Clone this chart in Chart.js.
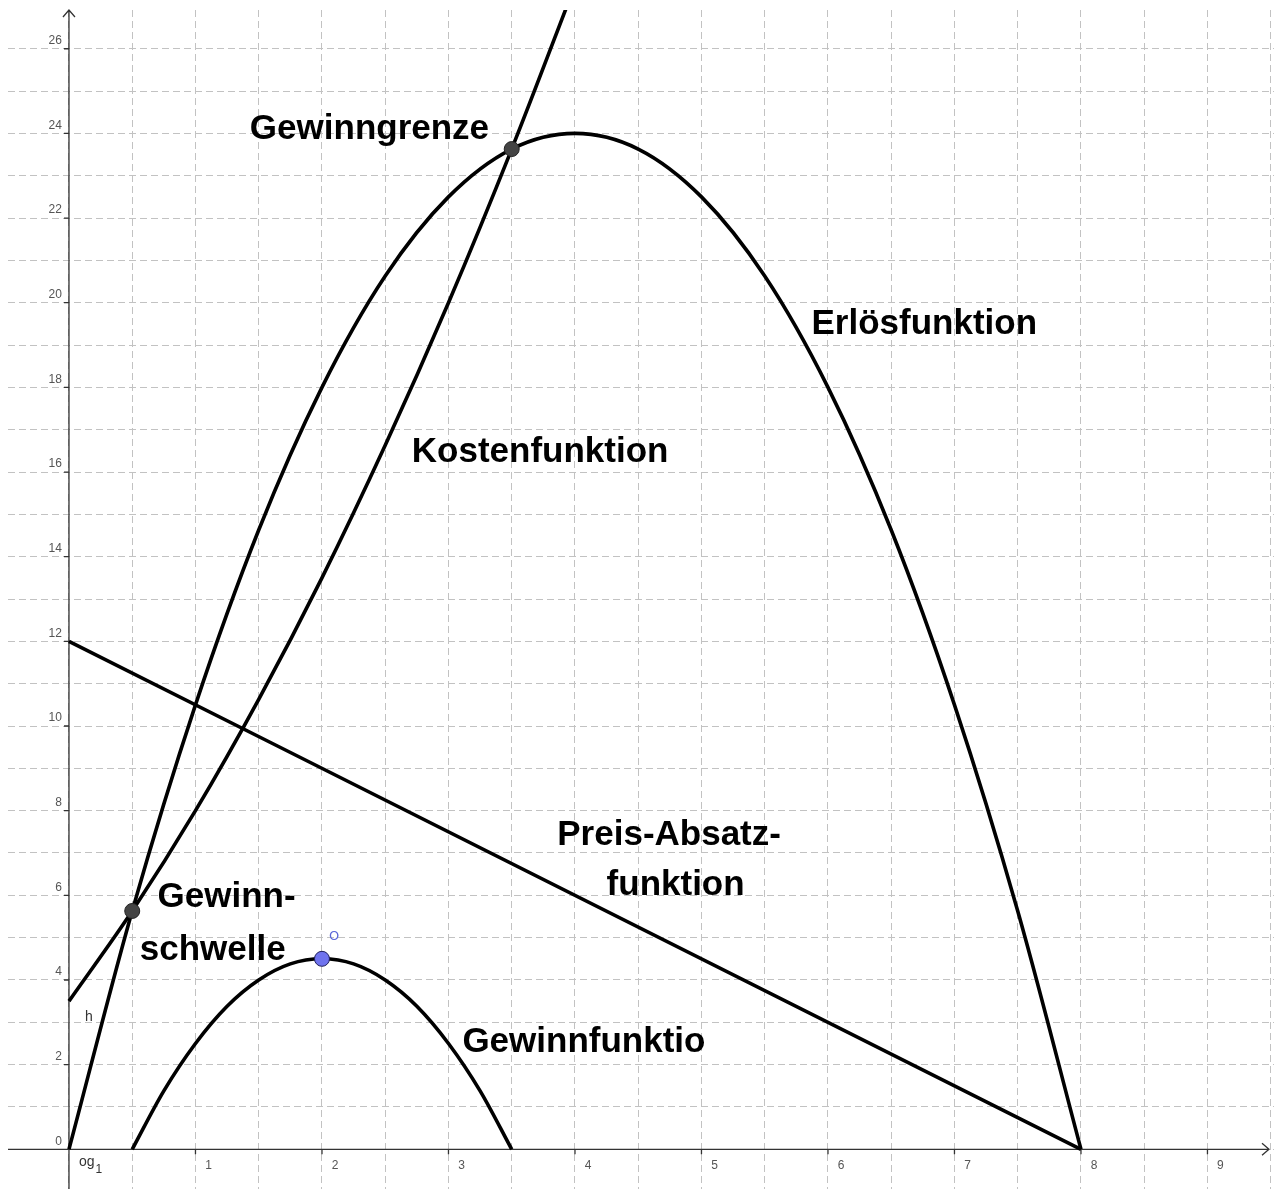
<!DOCTYPE html>
<html>
<head>
<meta charset="utf-8">
<script src="https://cdn.jsdelivr.net/npm/chart.js@4/dist/chart.umd.min.js"></script>
<style>
html, body { margin: 0; padding: 0; background: #fff; }
#grafik { display: block; }
</style>
</head>
<body>
<canvas id="grafik" width="1274" height="1189"></canvas>
<script>
// Werte
const erloesX = [0, 0.5, 1, 1.5, 2, 2.5, 3, 3.5, 4, 4.5, 5, 5.5, 6, 6.5, 7, 7.5, 8];
const erloesY = [0, 5.63, 10.5, 14.63, 18, 20.63, 22.5, 23.63, 24, 23.63, 22.5, 20.63, 18, 14.63, 10.5, 5.63, 0];

const kostenX = [0, 0.5, 1, 1.5, 2, 2.5, 3, 3.5, 4];
const kostenY = [3.5, 5.63, 8, 10.63, 13.5, 16.63, 20, 23.63, 27.5];

const gewinnX = [0.5, 0.75, 1, 1.25, 1.5, 1.75, 2, 2.25, 2.5, 2.75, 3, 3.25, 3.5];
const gewinnY = [0, 1.38, 2.5, 3.38, 4, 4.38, 4.5, 4.38, 4, 3.38, 2.5, 1.38, 0];

const preisX = [0, 8];
const preisY = [12, 0];

const schwellenPunkt = [0.5, 5.63];
const grenzPunkt = [3.5, 23.63];
const maxPunkt = [2, 4.5];

const xTicks = [1, 2, 3, 4, 5, 6, 7, 8, 9];
const yTicks = [0, 2, 4, 6, 8, 10, 12, 14, 16, 18, 20, 22, 24, 26];

// Beschriftungen (Text, Position in Achseneinheiten)
const notizen = [
  ['Gewinngrenze', 1.43, 23.87],
  ['Erlösfunktion', 5.87, 19.26],
  ['Kostenfunktion', 2.71, 16.24],
  ['Preis-Absatz-', 3.86, 7.19],
  ['funktion', 4.25, 6.01],
  ['Gewinn-', 0.70, 5.72],
  ['schwelle', 0.56, 4.47],
  ['Gewinnfunktio', 3.11, 2.30]
];

function punkte(xs, ys) {
  return xs.map((v, i) => ({x: v, y: ys[i]}));
}

function kurve(xs, ys) {
  return {
    data: punkte(xs, ys),
    showLine: true,
    borderColor: '#000',
    borderWidth: 3.6,
    pointRadius: 0,
    fill: false,
    cubicInterpolationMode: 'monotone'
  };
}

function punkt(p, farbe, rand) {
  return {
    data: [{x: p[0], y: p[1]}],
    pointRadius: 7.5,
    pointBackgroundColor: farbe,
    pointBorderColor: rand,
    pointBorderWidth: 1
  };
}

const halbeLinie = (ctx, step) => {
  const v = ctx.tick.value / step;
  return Math.abs(v - Math.round(v)) < 1e-6 ? '#c2c2c2' : 'rgba(0,0,0,0)';
};

const achsen = {
  id: 'achsen',
  beforeDatasetsDraw(chart) {
    const {ctx, chartArea: a, scales: {x, y}} = chart;
    const x0 = x.getPixelForValue(0);
    const y0 = y.getPixelForValue(0);
    ctx.save();
    ctx.strokeStyle = '#333';
    ctx.lineWidth = 1.3;
    ctx.beginPath();
    ctx.moveTo(a.left, y0); ctx.lineTo(a.right - 5, y0);
    ctx.moveTo(x0, a.bottom); ctx.lineTo(x0, a.top);
    ctx.moveTo(a.right - 12, y0 - 6); ctx.lineTo(a.right - 5, y0); ctx.lineTo(a.right - 12, y0 + 6);
    ctx.moveTo(x0 - 6, a.top + 7); ctx.lineTo(x0, a.top); ctx.lineTo(x0 + 6, a.top + 7);
    xTicks.forEach(v => {
      const p = x.getPixelForValue(v);
      ctx.moveTo(p, y0); ctx.lineTo(p, y0 + 5);
    });
    yTicks.forEach(v => {
      const p = y.getPixelForValue(v);
      ctx.moveTo(x0 - 5, p); ctx.lineTo(x0, p);
    });
    ctx.stroke();

    ctx.fillStyle = '#555';
    ctx.font = '12px "Liberation Sans", Arial, sans-serif';
    ctx.textBaseline = 'middle';
    ctx.textAlign = 'center';
    xTicks.forEach(v => ctx.fillText(String(v), x.getPixelForValue(v) + 13, y0 + 16));
    ctx.textAlign = 'right';
    yTicks.forEach(v => ctx.fillText(String(v), x0 - 7, y.getPixelForValue(v) - 8));

    // Objektnamen wie in GeoGebra
    ctx.fillStyle = '#333';
    ctx.textAlign = 'center';
    ctx.font = '14px "Liberation Sans", Arial, sans-serif';
    ctx.fillText('h', x.getPixelForValue(0.158), y.getPixelForValue(3.12));
    ctx.fillText('og', x.getPixelForValue(0.14), y.getPixelForValue(-0.30));
    ctx.font = '12px "Liberation Sans", Arial, sans-serif';
    ctx.fillText('1', x.getPixelForValue(0.237), y.getPixelForValue(-0.49));
    ctx.restore();
  },
  afterDatasetsDraw(chart) {
    const {ctx, scales: {x, y}} = chart;
    ctx.save();
    ctx.fillStyle = '#000';
    ctx.font = 'bold 35px "Comic Sans MS", "Liberation Sans", Arial, sans-serif';
    ctx.textAlign = 'left';
    ctx.textBaseline = 'alphabetic';
    notizen.forEach(n => ctx.fillText(n[0], x.getPixelForValue(n[1]), y.getPixelForValue(n[2])));

    ctx.fillStyle = '#5a66d8';
    ctx.font = '13px "DejaVu Sans", sans-serif';
    ctx.textAlign = 'center';
    ctx.textBaseline = 'middle';
    ctx.fillText('O', x.getPixelForValue(2.097), y.getPixelForValue(5.02));
    ctx.restore();
  }
};

new Chart(document.getElementById('grafik'), {
  type: 'scatter',
  data: {
    datasets: [
      punkt(schwellenPunkt, '#444', '#222'),
      punkt(grenzPunkt, '#444', '#222'),
      punkt(maxPunkt, '#6f73ee', '#1e1e5a'),
      kurve(erloesX, erloesY),
      kurve(kostenX, kostenY),
      kurve(gewinnX, gewinnY),
      kurve(preisX, preisY)
    ]
  },
  options: {
    responsive: false,
    animation: false,
    devicePixelRatio: 1,
    layout: { autoPadding: false, padding: { left: 8, top: 10, right: 0, bottom: 0 } },
    elements: { line: { capBezierPoints: false } },
    plugins: { legend: { display: false }, tooltip: { enabled: false } },
    scales: {
      x: {
        type: 'linear',
        min: -0.482,
        max: 9.526,
        ticks: { display: false, stepSize: 0.5, includeBounds: false },
        grid: { drawTicks: false, lineWidth: 1, color: c => halbeLinie(c, 0.5) },
        border: { display: false, dash: [7, 4] }
      },
      y: {
        type: 'linear',
        min: -0.938,
        max: 26.915,
        ticks: { display: false, stepSize: 1, includeBounds: false },
        grid: { drawTicks: false, lineWidth: 1, color: c => halbeLinie(c, 1) },
        border: { display: false, dash: [7, 4] }
      }
    }
  },
  plugins: [achsen]
});
</script>
</body>
</html>
